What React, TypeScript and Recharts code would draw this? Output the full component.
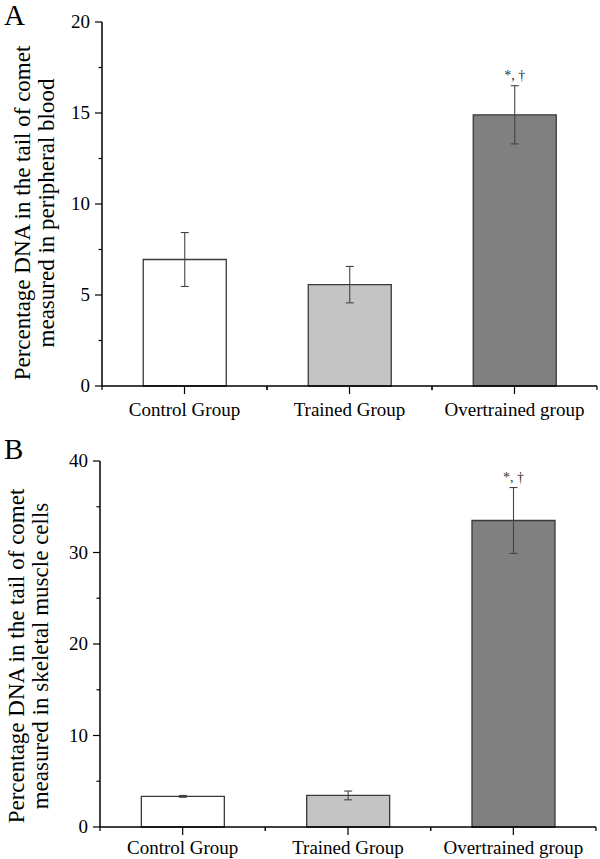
import React from 'react';
import { BarChart, Bar, XAxis, YAxis, Cell, ErrorBar, LabelList } from 'recharts';

const groups = ['Control Group', 'Trained Group', 'Overtrained group'];
const bloodMean = [6.95, 5.57, 14.9];
const bloodErr = [1.48, 1.0, 1.6];
const muscleMean = [3.35, 3.45, 33.5];
const muscleErr = [0.1, 0.48, 3.6];
const notes = ['', '', '*, †'];
const fills = ['#ffffff', '#c4c4c4', '#808080'];
const bloodTicks = [0, 2.5, 5, 7.5, 10, 12.5, 15, 17.5, 20];
const muscleTicks = [0, 5, 10, 15, 20, 25, 30, 35, 40];

const FONT = "'Liberation Serif', 'Times New Roman', serif";
const txt = { fontFamily: FONT };

interface PanelProps {
  letter: string;
  mean: number[];
  err: number[];
  ticks: number[];
  majorStep: number;
  label: string[];
  top: number;
  height: number;
  margin: { top: number; right: number; left: number; bottom: number };
  yWidth: number;
  xHeight: number;
  labelX: number[];
  labelDy: number;
  catDy: number;
}

function Panel(p: PanelProps) {
  const data = groups.map((g, i) => ({ name: g, value: p.mean[i], err: p.err[i], note: notes[i] }));
  const band = (600 - p.yWidth - p.margin.left - p.margin.right) / groups.length;
  const max = p.ticks[p.ticks.length - 1];

  const yTick = (t: any) => {
    const v = t.payload.value;
    const major = v % p.majorStep === 0;
    return (
      <g>
        <line x1={t.x - (major ? 7 : 3.5)} x2={t.x} y1={t.y} y2={t.y} stroke="#000" strokeWidth={1.2} />
        {major && (
          <text x={t.x - 12} y={t.y + 6} textAnchor="end" fontSize={19} style={txt} fill="#000">
            {v}
          </text>
        )}
      </g>
    );
  };

  const xTick = (t: any) => (
    <g>
      <line x1={t.x} x2={t.x} y1={t.y} y2={t.y + 8} stroke="#000" strokeWidth={1.2} />
      <line x1={t.x - band / 2} x2={t.x - band / 2} y1={t.y} y2={t.y + 4} stroke="#000" strokeWidth={1.2} />
      <line x1={t.x + band / 2} x2={t.x + band / 2} y1={t.y} y2={t.y + 4} stroke="#000" strokeWidth={1.2} />
      <text x={t.x} y={t.y + p.catDy} textAnchor="middle" fontSize={19} style={txt} fill="#000">
        {t.payload.value}
      </text>
    </g>
  );

  const yLabel = (props: any) => {
    const vb = props.viewBox;
    const cy = vb.y + vb.height / 2 + p.labelDy;
    return (
      <g>
        {p.label.map((line, i) => (
          <text
            key={i}
            x={p.labelX[i]}
            y={cy}
            transform={`rotate(-90 ${p.labelX[i]} ${cy})`}
            textAnchor="middle"
            fontSize={23}
            style={txt}
            fill="#000"
          >
            {line}
          </text>
        ))}
      </g>
    );
  };

  const note = (props: any) => {
    const { x, y, width, height, index, value } = props;
    if (!value) return null;
    const errTop = y - (p.err[index] * height) / p.mean[index];
    return (
      <text x={x + width / 2} y={errTop - 6} textAnchor="middle" fontSize={14} style={txt} fill="#333">
        {value}
      </text>
    );
  };

  return (
    <div style={{ position: 'absolute', left: 0, top: p.top, width: 600, height: p.height }}>
      <BarChart width={600} height={p.height} data={data} margin={p.margin} barCategoryGap="25%">
        <XAxis
          dataKey="name"
          height={p.xHeight}
          tickLine={false}
          tickSize={0}
          tickMargin={0}
          axisLine={{ stroke: '#000', strokeWidth: 1.5 }}
          tick={xTick}
          interval={0}
        />
        <YAxis
          type="number"
          domain={[0, max]}
          ticks={p.ticks}
          interval={0}
          width={p.yWidth}
          tickLine={false}
          tickSize={0}
          tickMargin={0}
          axisLine={{ stroke: '#000', strokeWidth: 1.5 }}
          tick={yTick}
          label={yLabel}
        />
        <Bar dataKey="value" stroke="#3a3a3a" strokeWidth={1.3} isAnimationActive={false}>
          {data.map((d, i) => (
            <Cell key={d.name} fill={fills[i]} />
          ))}
          <ErrorBar dataKey="err" width={4} stroke="#444" strokeWidth={1.1} isAnimationActive={false} />
          <LabelList dataKey="note" content={note} />
        </Bar>
      </BarChart>
      <div
        style={{
          position: 'absolute',
          left: 4,
          top: p.letter === 'A' ? -2 : 2,
          fontFamily: FONT,
          fontSize: 29,
          lineHeight: '34px',
          color: '#000',
        }}
      >
        {p.letter}
      </div>
    </div>
  );
}

export default function App() {
  return (
    <div style={{ position: 'absolute', left: 0, top: 0, width: 600, height: 859, background: '#fff' }}>
      <Panel
        letter="A"
        mean={bloodMean}
        err={bloodErr}
        ticks={bloodTicks}
        majorStep={5}
        label={['Percentage DNA in the tail of comet', 'measured in peripheral blood']}
        top={0}
        height={430}
        margin={{ top: 22, right: 3, left: 0, bottom: 0 }}
        yWidth={102}
        xHeight={44}
        labelX={[30, 54]}
        labelDy={9}
        catDy={30}
      />
      <Panel
        letter="B"
        mean={muscleMean}
        err={muscleErr}
        ticks={muscleTicks}
        majorStep={10}
        label={['Percentage DNA in the tail of comet', 'measured in skeletal muscle cells']}
        top={430}
        height={429}
        margin={{ top: 31, right: 4, left: 0, bottom: 0 }}
        yWidth={100}
        xHeight={32}
        labelX={[24, 48]}
        labelDy={12}
        catDy={27}
      />
    </div>
  );
}
